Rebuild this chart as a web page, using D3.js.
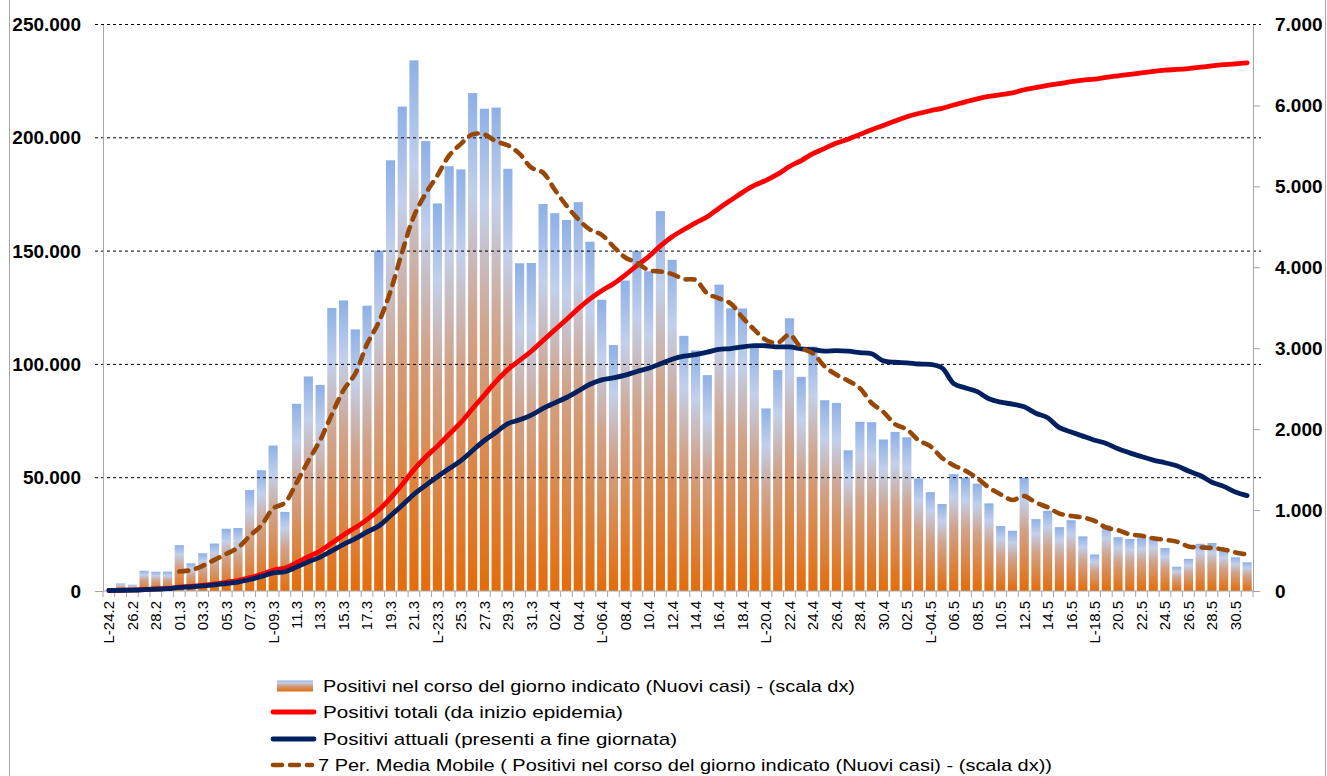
<!DOCTYPE html>
<html>
<head>
<meta charset="utf-8">
<script src="https://cdn.jsdelivr.net/npm/d3@7"></script>
<style>
  html, body { margin: 0; padding: 0; background: #fff; }
  svg { display: block; }
  text { font-family: "Liberation Sans", Arial, sans-serif; }
</style>
</head>
<body>
<svg id="chart" width="1327" height="776"></svg>
<script>
// categories (day.month, "L-" = lunedì)
const dates = [
    "L-24.2", "25.2", "26.2", "27.2", "28.2", "29.2",
    "01.3", "L-02.3", "03.3", "04.3", "05.3", "06.3", "07.3", "08.3", "L-09.3", "10.3",
    "11.3", "12.3", "13.3", "14.3", "15.3", "L-16.3", "17.3", "18.3", "19.3", "20.3",
    "21.3", "22.3", "L-23.3", "24.3", "25.3", "26.3", "27.3", "28.3", "29.3", "L-30.3", "31.3",
    "01.4", "02.4", "03.4", "04.4", "05.4", "L-06.4", "07.4", "08.4", "09.4", "10.4",
    "11.4", "12.4", "L-13.4", "14.4", "15.4", "16.4", "17.4", "18.4", "19.4", "L-20.4",
    "21.4", "22.4", "23.4", "24.4", "25.4", "26.4", "L-27.4", "28.4", "29.4", "30.4",
    "01.5", "02.5", "03.5", "L-04.5", "05.5", "06.5", "07.5", "08.5", "09.5", "10.5",
    "L-11.5", "12.5", "13.5", "14.5", "15.5", "16.5", "17.5", "L-18.5", "19.5", "20.5",
    "21.5", "22.5", "23.5", "24.5", "L-25.5", "26.5", "27.5", "28.5", "29.5", "30.5", "31.5"
];

// Positivi nel corso del giorno (scala dx)
const nuoviCasi = [
    null, 93, 78, 250, 238, 240,
    566, 342, 466, 587, 769, 778, 1247, 1492, 1797, 977,
    2313, 2651, 2547, 3497, 3590, 3233, 3526, 4207, 5322, 5986,
    6557, 5560, 4789, 5249, 5210, 6153, 5959, 5974, 5217, 4050, 4053,
    4782, 4668, 4585, 4805, 4316, 3599, 3039, 3836, 4204, 3951,
    4694, 4092, 3153, 2972, 2667, 3786, 3493, 3491, 3047, 2256,
    2729, 3370, 2646, 3021, 2357, 2324, 1739, 2091, 2086, 1872,
    1965, 1900, 1389, 1221, 1075, 1444, 1401, 1327, 1083, 802,
    744, 1402, 888, 992, 789, 875, 675, 451, 813, 665,
    642, 652, 669, 531, 300, 397, 584, 593, 516, 416, 355
];

// Positivi totali (scala sx)
const positiviTotali = [
    229, 322, 400, 650, 888, 1128,
    1694, 2036, 2502, 3089, 3858, 4636, 5883, 7375, 9172, 10149,
    12462, 15113, 17660, 21157, 24747, 27980, 31506, 35713, 41035, 47021,
    53578, 59138, 63927, 69176, 74386, 80539, 86498, 92472, 97689, 101739, 105792,
    110574, 115242, 119827, 124632, 128948, 132547, 135586, 139422, 143626, 147577,
    152271, 156363, 159516, 162488, 165155, 168941, 172434, 175925, 178972, 181228,
    183957, 187327, 189973, 192994, 195351, 197675, 199414, 201505, 203591, 205463,
    207428, 209328, 210717, 211938, 213013, 214457, 215858, 217185, 218268, 219070,
    219814, 221216, 222104, 223096, 223885, 224760, 225435, 225886, 226699, 227364,
    228006, 228658, 229327, 229858, 230158, 230555, 231139, 231732, 232248, 232664, 233019
];

// Positivi attuali (scala sx)
const positiviAttuali = [
    221, 311, 385, 588, 821, 1049,
    1577, 1835, 2263, 2706, 3296, 3916, 5061, 6387, 7985, 8514,
    10590, 12839, 14955, 17750, 20603, 23073, 26062, 28710, 33190, 37860,
    42681, 46638, 50418, 54030, 57521, 62013, 66414, 70065, 73880, 75528, 77635,
    80572, 83049, 85388, 88274, 91246, 93187, 94067, 95262, 96877, 98273,
    100269, 102253, 103616, 104291, 105418, 106607, 106962, 107771, 108257, 108237,
    107709, 107699, 106848, 106527, 105847, 106103, 105813, 105205, 104657, 101551,
    100943, 100704, 100179, 99980, 98467, 91528, 89624, 87961, 84842, 83324,
    82488, 81266, 78457, 76440, 72070, 70187, 68351, 66553, 65129, 62752,
    60960, 59322, 57752, 56594, 55300, 52942, 50966, 47986, 46175, 43691, 42075
];

// 7 Per. Media Mobile (scala dx), starts at 01.3
const mediaMobile = [
    null, null, null, null, null, null,
    241, 258, 311, 384, 458, 535, 679, 812, 1019, 1092,
    1339, 1608, 1861, 2182, 2482, 2687, 3051, 3322, 3703, 4194,
    4632, 4913, 5135, 5381, 5525, 5643, 5640, 5556, 5507, 5402, 5231,
    5170, 4958, 4761, 4594, 4466, 4401, 4256, 4121, 4055, 3964,
    3948, 3916, 3853, 3843, 3676, 3616, 3551, 3379, 3230, 3102,
    3067, 3167, 3005, 2937, 2775, 2672, 2598, 2507, 2323, 2213,
    2062, 1997, 1863, 1789, 1644, 1552, 1485, 1394, 1277, 1193,
    1125, 1172, 1092, 1034, 957, 927, 909, 867, 783, 751,
    701, 682, 652, 632, 610, 551, 539, 532, 513, 477, 452
];

const leftTicks = [0, 50000, 100000, 150000, 200000, 250000];
const rightTicks = [0, 1000, 2000, 3000, 4000, 5000, 6000, 7000];

const legendItems = [
    { label: "Positivi nel corso del giorno indicato (Nuovi casi) - (scala dx)", type: "bar", width: 532 },
    { label: "Positivi totali (da inizio epidemia)", type: "red", width: 300 },
    { label: "Positivi attuali (presenti a fine giornata)", type: "navy", width: 354 },
    { label: "7 Per. Media Mobile ( Positivi nel corso del giorno indicato (Nuovi casi) - (scala dx))", type: "ma", width: 734 }
];

const svg = d3.select("#chart");
const plotLeft = 103, plotRight = 1253, plotTop = 24.5, plotBottom = 591;

const it = d3.formatLocale({ decimal: ",", thousands: ".", grouping: [3], currency: ["", "€"] });
const fmt = it.format(",d");

const x = d3.scaleBand()
    .domain(dates)
    .range([plotLeft, plotRight])
    .paddingInner(0.22)
    .paddingOuter(0.11);
const yL = d3.scaleLinear().domain([0, 250000]).range([plotBottom, plotTop]);
const yR = d3.scaleLinear().domain([0, 7000]).range([plotBottom, plotTop]);
const cx = d => x(d) + x.bandwidth() / 2;

// outer chart frame
svg.append("rect")
    .attr("x", 9.5).attr("y", -5)
    .attr("width", 1316).attr("height", 790)
    .attr("fill", "none")
    .attr("stroke", "#a6a6a6");

// gradients
const defs = svg.append("defs");
const grad = defs.append("linearGradient")
    .attr("id", "barGrad")
    .attr("x1", 0).attr("y1", 0).attr("x2", 0).attr("y2", 1);
grad.append("stop").attr("offset", "0%").attr("stop-color", "#8eb0e6");
grad.append("stop").attr("offset", "20%").attr("stop-color", "#c2d0ec");
grad.append("stop").attr("offset", "46%").attr("stop-color", "#d1a38a");
grad.append("stop").attr("offset", "100%").attr("stop-color", "#e46c0a");

// bars
svg.append("g")
    .selectAll("rect")
    .data(dates.map((d, i) => ({ d, v: nuoviCasi[i] })).filter(o => o.v != null))
    .join("rect")
    .attr("x", o => x(o.d))
    .attr("width", x.bandwidth())
    .attr("y", o => yR(o.v))
    .attr("height", o => plotBottom - yR(o.v))
    .attr("fill", "url(#barGrad)");

// gridlines
svg.append("g")
    .selectAll("line")
    .data(leftTicks.filter(v => v > 0))
    .join("line")
    .attr("x1", plotLeft - 8).attr("x2", plotRight + 8)
    .attr("y1", d => yL(d)).attr("y2", d => yL(d))
    .attr("stroke", "#000")
    .attr("stroke-width", 1)
    .attr("stroke-dasharray", "3,3");

// axes
const axisL = svg.append("g")
    .attr("transform", `translate(${plotLeft},0)`)
    .call(d3.axisLeft(yL).tickValues(leftTicks).tickFormat(fmt).tickSize(8).tickSizeOuter(0).tickPadding(14));
const axisR = svg.append("g")
    .attr("transform", `translate(${plotRight},0)`)
    .call(d3.axisRight(yR).tickValues(rightTicks).tickFormat(fmt).tickSize(7).tickSizeOuter(0).tickPadding(15));
[axisL, axisR].forEach(a => {
    a.select(".domain").attr("stroke", "#a6a6a6");
    a.selectAll(".tick line").attr("stroke", "#a6a6a6");
    a.selectAll(".tick text")
        .attr("fill", "#000")
        .style("font-size", "19px")
        .style("font-weight", "bold")
        .style("font-family", "'Liberation Sans', Arial, sans-serif");
});
axisL.selectAll(".tick").filter(d => d > 0).select("line").attr("stroke", "none");
axisR.selectAll(".tick").filter(d => d === 7000).select("line").attr("stroke", "none");

// x axis
svg.append("line")
    .attr("x1", plotLeft).attr("x2", plotRight)
    .attr("y1", plotBottom).attr("y2", plotBottom)
    .attr("stroke", "#a6a6a6");
const edge = (x.step() - x.bandwidth()) / 2;
svg.append("g")
    .selectAll("line")
    .data(dates.concat([null]))
    .join("line")
    .attr("x1", d => d ? x(d) - edge : plotRight)
    .attr("x2", d => d ? x(d) - edge : plotRight)
    .attr("y1", plotBottom).attr("y2", plotBottom + 6)
    .attr("stroke", "#a6a6a6");
svg.append("g")
    .selectAll("text")
    .data(dates.filter((d, i) => i % 2 === 0))
    .join("text")
    .attr("transform", d => `translate(${cx(d)},601) rotate(-90)`)
    .attr("text-anchor", "end")
    .attr("dy", "0.36em")
    .style("font-size", "15px")
    .attr("fill", "#000")
    .text(d => d);

// lines
const lineL = d3.line()
    .defined(d => d.v != null)
    .x(d => cx(d.d))
    .y(d => yL(d.v))
    .curve(d3.curveCatmullRom);
const lineR = d3.line()
    .defined(d => d.v != null)
    .x(d => cx(d.d))
    .y(d => yR(d.v))
    .curve(d3.curveCatmullRom);

svg.append("path")
    .datum(dates.map((d, i) => ({ d, v: positiviTotali[i] })))
    .attr("d", lineL)
    .attr("fill", "none")
    .attr("stroke", "#ff0000")
    .attr("stroke-width", 4.8)
    .attr("stroke-linecap", "round")
    .attr("stroke-linejoin", "round");

svg.append("path")
    .datum(dates.map((d, i) => ({ d, v: positiviAttuali[i] })))
    .attr("d", lineL)
    .attr("fill", "none")
    .attr("stroke", "#002060")
    .attr("stroke-width", 4.8)
    .attr("stroke-linecap", "round")
    .attr("stroke-linejoin", "round");

svg.append("path")
    .datum(dates.map((d, i) => ({ d, v: mediaMobile[i] })))
    .attr("d", lineR)
    .attr("fill", "none")
    .attr("stroke", "#974806")
    .attr("stroke-width", 4.6)
    .attr("stroke-dasharray", "9,8")
    .attr("stroke-linecap", "round");

// legend
const legendY = [686, 712, 739, 765];
const leg = svg.append("g");
legendItems.forEach((item, i) => {
    const y = legendY[i];
    if (item.type === "bar") {
        leg.append("rect")
            .attr("x", 277).attr("y", y - 5.5)
            .attr("width", 36).attr("height", 11)
            .attr("fill", "url(#barGrad)");
    } else {
        leg.append("line")
            .attr("x1", 273).attr("x2", item.type === "ma" ? 312 : 314)
            .attr("y1", y).attr("y2", y)
            .attr("stroke", item.type === "red" ? "#ff0000" : item.type === "navy" ? "#002060" : "#974806")
            .attr("stroke-width", item.type === "ma" ? 4.6 : 4.8)
            .attr("stroke-dasharray", item.type === "ma" ? "9,8" : null)
            .attr("stroke-linecap", "round");
    }
    leg.append("text")
        .attr("x", item.type === "ma" ? 318 : 323)
        .attr("y", y)
        .attr("dy", "0.35em")
        .attr("textLength", item.width)
        .attr("lengthAdjust", "spacingAndGlyphs")
        .style("font-size", "17px")
        .attr("fill", "#000")
        .text(item.label);
});
</script>
</body>
</html>
